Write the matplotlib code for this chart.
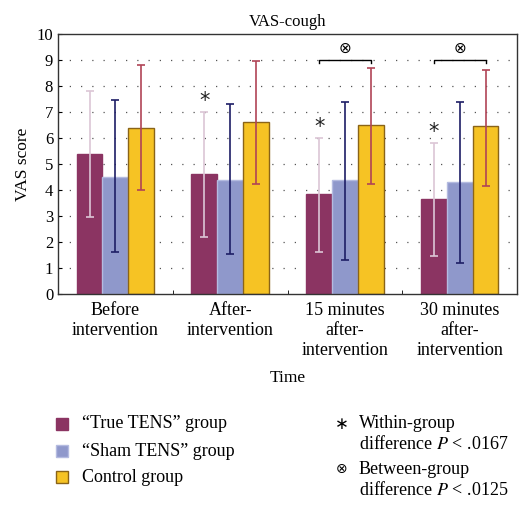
import matplotlib
matplotlib.use("Agg")
import matplotlib.pyplot as plt
import numpy as np

categories = ["Before\nintervention", "After-\nintervention",
              "15 minutes\nafter-\nintervention", "30 minutes\nafter-\nintervention"]
true_mean = [5.4, 4.6, 3.85, 3.65]
true_lo = [2.95, 2.2, 1.6, 1.45]
true_hi = [7.8, 7.0, 6.0, 5.8]
sham_mean = [4.5, 4.4, 4.4, 4.3]
sham_lo = [1.6, 1.55, 1.3, 1.2]
sham_hi = [7.45, 7.3, 7.4, 7.4]
ctrl_mean = [6.4, 6.6, 6.5, 6.45]
ctrl_lo = [4.0, 4.25, 4.25, 4.15]
ctrl_hi = [8.8, 8.95, 8.7, 8.6]
within_sig = [1, 2, 3]
between_sig = [2, 3]
bracket_y = 9.0

plt.rcParams['font.family'] = ['Liberation Serif', 'DejaVu Serif']
plt.rcParams['mathtext.fontset'] = 'stix'

fig = plt.figure(figsize=(5.32, 5.09), dpi=100)
ax = fig.add_axes([0.109, 0.4224, 0.863, 0.5106])

x = np.arange(len(categories))
w = 0.225
series = [
    (true_mean, true_lo, true_hi, "#8b3462", "#8b3462", "#dcc6d6"),
    (sham_mean, sham_lo, sham_hi, "#8f98cb", "#b4bbe0", "#1e1e66"),
    (ctrl_mean, ctrl_lo, ctrl_hi, "#f6c324", "#8a6418", "#b04456"),
]
for i, (m, lo, hi, fc, ec, errc) in enumerate(series):
    xs = x + (i - 1) * w
    ax.bar(xs, m, width=w, color=fc, edgecolor=ec, linewidth=1.0, zorder=2)
    m = np.array(m)
    yerr = [m - np.array(lo), np.array(hi) - m]
    ax.errorbar(xs, m, yerr=yerr, fmt='none', ecolor=errc, elinewidth=1.2,
                capsize=3, capthick=1.2, zorder=3)

for g in within_sig:
    ax.text(x[g] - w, true_hi[g] + 0.05, "*", ha='center', va='bottom',
            fontsize=15, family='DejaVu Sans', color='#222222')

for g in between_sig:
    x0, x1 = x[g] - w, x[g] + w
    ax.plot([x0, x0, x1, x1], [bracket_y - 0.12, bracket_y, bracket_y, bracket_y - 0.12],
            color='black', lw=1.0, zorder=4)
    ax.text((x0 + x1) / 2, bracket_y + 0.18, "⊗", ha='center', va='bottom',
            fontsize=11, family='DejaVu Sans')

ax.set_xlim(-0.5, 3.5)
ax.set_ylim(0, 10)
ax.set_yticks(range(0, 11))
ax.set_xticks(x)
ax.set_xticklabels(categories, fontsize=13, linespacing=1.2)
ax.set_xticks([0.5, 1.5, 2.5], minor=True)
ax.tick_params(axis='x', which='major', length=0, pad=6)
ax.tick_params(axis='x', which='minor', direction='in', length=3)
ax.tick_params(axis='y', direction='in', length=3, labelsize=12)
for yv in range(1, 10):
    ax.axhline(yv, color='#555555', lw=0.9, ls=(0, (1, 8)), zorder=1)
for s in ax.spines.values():
    s.set_linewidth(1.0)
    s.set_color('#333333')

ax.set_title("VAS-cough", fontsize=12, pad=6)
ax.set_ylabel("VAS score", fontsize=12.5)
ax.set_xlabel("Time", fontsize=12.5, labelpad=8)

# legend (manual, figure coordinates)
legend_items = [("\u201cTrue TENS\u201d group", "#8b3462", "#8b3462"),
                ("\u201cSham TENS\u201d group", "#8f98cb", "#b4bbe0"),
                ("Control group", "#f6c324", "#8a6418")]
ys = [424, 451, 477]
for (lab, fc, ec), yp in zip(legend_items, ys):
    fy = 1 - yp / 509
    fig.patches.append(plt.Rectangle((56 / 532, fy - 6 / 509), 12 / 532, 12 / 509,
                                     transform=fig.transFigure, facecolor=fc,
                                     edgecolor=ec, lw=1.0))
    fig.text(82 / 532, fy, lab, va='center', ha='left', fontsize=13)

fig.text(342 / 532, 1 - 424 / 509, "\u2217", va='center', ha='center', fontsize=12,
         family='DejaVu Sans')
fig.text(359 / 532, 1 - 424 / 509, "Within-group", va='center', ha='left', fontsize=13)
fig.text(359 / 532, 1 - 444 / 509, "difference $P$ < .0167", va='center', ha='left', fontsize=13)
fig.text(342 / 532, 1 - 469 / 509, "\u2297", va='center', ha='center', fontsize=10,
         family='DejaVu Sans')
fig.text(359 / 532, 1 - 469 / 509, "Between-group", va='center', ha='left', fontsize=13)
fig.text(359 / 532, 1 - 490 / 509, "difference $P$ < .0125", va='center', ha='left', fontsize=13)

fig.savefig("out.png", dpi=100)
